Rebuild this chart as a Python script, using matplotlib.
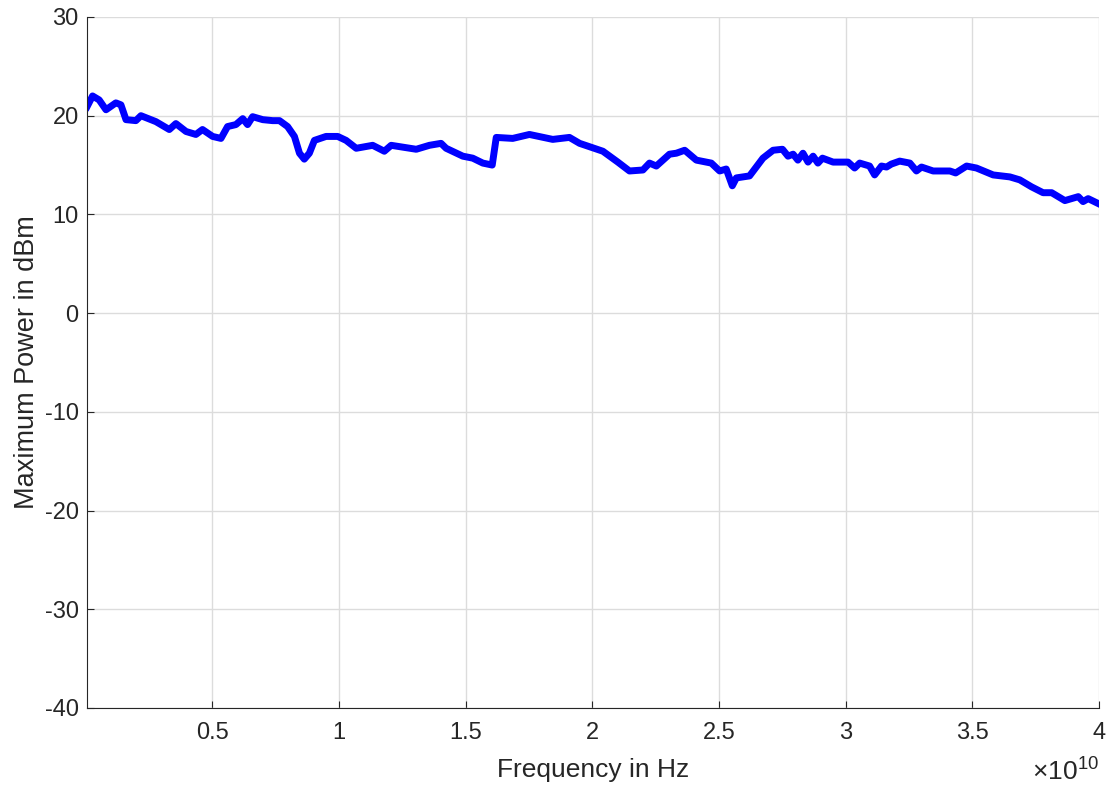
import numpy as np
import matplotlib
matplotlib.use("Agg")
import matplotlib.pyplot as plt
from matplotlib.ticker import FuncFormatter

# frequency in GHz and max power in dBm
freq_ghz = [0.05, 0.27, 0.53, 0.80, 1.19, 1.39, 1.59, 1.98, 2.18, 2.77,
            3.30, 3.56, 3.96, 4.35, 4.61, 5.01, 5.34, 5.60, 5.93, 6.20,
            6.39, 6.59, 6.99, 7.38, 7.65, 7.97, 8.24, 8.44, 8.63, 8.83,
            9.03, 9.49, 9.95, 10.28, 10.68, 11.33, 11.79, 12.06, 13.05, 13.57,
            14.03, 14.23, 14.89, 15.28, 15.68, 16.05, 16.21, 16.86, 17.52, 18.44,
            19.10, 19.50, 20.42, 21.01, 21.47, 22.00, 22.26, 22.53, 23.05, 23.32,
            23.65, 24.11, 24.70, 25.03, 25.29, 25.53, 25.69, 26.21, 26.74, 27.14,
            27.51, 27.73, 27.93, 28.12, 28.32, 28.52, 28.72, 28.91, 29.09, 29.51,
            30.10, 30.36, 30.56, 30.95, 31.15, 31.42, 31.62, 31.81, 32.14, 32.54,
            32.80, 33.00, 33.46, 34.12, 34.35, 34.78, 35.17, 35.83, 36.49, 36.88,
            37.34, 37.80, 38.14, 38.66, 39.19, 39.38, 39.58, 39.98]
power_dbm = [20.9, 22.0, 21.6, 20.6, 21.3, 21.1, 19.6, 19.5, 20.0, 19.4,
             18.6, 19.2, 18.4, 18.1, 18.6, 17.9, 17.7, 18.9, 19.1, 19.7,
             19.1, 19.9, 19.6, 19.5, 19.5, 18.9, 17.9, 16.2, 15.6, 16.2,
             17.5, 17.9, 17.9, 17.5, 16.7, 17.0, 16.4, 17.0, 16.6, 17.0,
             17.2, 16.7, 15.9, 15.7, 15.2, 15.0, 17.8, 17.7, 18.1, 17.6,
             17.8, 17.2, 16.4, 15.3, 14.4, 14.5, 15.2, 14.9, 16.1, 16.2,
             16.5, 15.5, 15.2, 14.4, 14.6, 12.9, 13.7, 13.9, 15.7, 16.5,
             16.6, 15.9, 16.1, 15.5, 16.2, 15.3, 15.9, 15.2, 15.7, 15.3,
             15.3, 14.7, 15.2, 14.9, 14.0, 14.9, 14.8, 15.1, 15.4, 15.2,
             14.4, 14.8, 14.4, 14.4, 14.2, 14.9, 14.7, 14.0, 13.8, 13.5,
             12.8, 12.2, 12.2, 11.4, 11.8, 11.3, 11.6, 11.1]

freq = np.array(freq_ghz) * 1e9
power = np.array(power_dbm)

plt.rcParams['font.family'] = ['Liberation Sans', 'DejaVu Sans']
plt.rcParams['axes.unicode_minus'] = False
plt.rcParams['mathtext.fontset'] = 'custom'
plt.rcParams['mathtext.rm'] = 'Liberation Sans'

txt = '#262626'
fig = plt.figure(figsize=(11.11, 7.9), dpi=100)
ax = fig.add_axes([0.0783, 0.1038, 0.9107, 0.8747])
ax.plot(freq, power, color=(0, 0, 1), lw=5, solid_joinstyle='round')

ax.set_xlim(freq[0], 4e10)
ax.set_ylim(-40, 30)
ax.set_xticks(np.arange(0.5e10, 4.01e10, 0.5e10))
ax.set_yticks(np.arange(-40, 31, 10))
ax.xaxis.set_major_formatter(FuncFormatter(lambda v, p: "{:g}".format(v / 1e10)))

ax.grid(True, color='#dcdcdc', lw=1)
ax.set_axisbelow(True)
for s in ['top', 'right']:
    ax.spines[s].set_visible(False)
for s in ['left', 'bottom']:
    ax.spines[s].set_color(txt)
ax.tick_params(direction='in', length=5, colors=txt, labelsize=17)
ax.tick_params(axis='x', pad=10)
ax.tick_params(axis='y', pad=6)

ax.set_xlabel("Frequency in Hz", fontsize=19, color=txt, labelpad=10)
ax.set_ylabel("Maximum Power in dBm", fontsize=19.5, color=txt, labelpad=3)
ax.text(1.0, -0.07, r"$\times$10$^{10}$", transform=ax.transAxes,
        ha='right', va='top', fontsize=19, color=txt)

fig.savefig("out.png", dpi=100)
